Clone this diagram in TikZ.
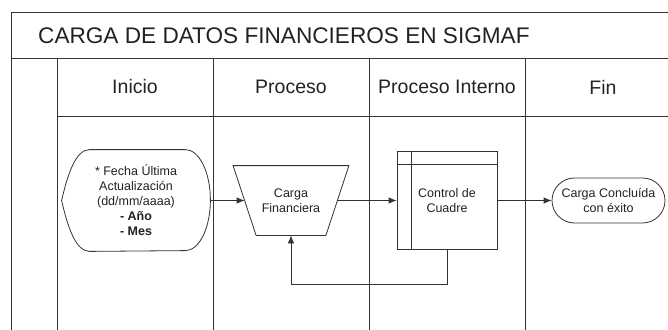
\documentclass[tikz,border=0pt]{standalone}
\usepackage{fontspec}
\setmainfont{Liberation Sans}
\usepackage{tikz}
\usetikzlibrary{arrows.meta}
\definecolor{lineGray}{HTML}{333333}
\definecolor{textGray}{HTML}{222222}

\begin{document}
\begin{tikzpicture}[x=1pt,y=-1pt,
    lane/.style={draw=lineGray,line width=1pt},
    outline/.style={draw=lineGray,line width=0.8pt},
    box/.style={outline,text=textGray,align=center,font=\fontsize{12.5}{15}\selectfont},
    flow/.style={draw=lineGray,line width=0.8pt,-{Latex[length=8pt,width=6.5pt]}},
    head/.style={text=textGray,font=\fontsize{19.5}{23}\selectfont}]
    \useasboundingbox (0,0) rectangle (668,329);
    \clip (0,0) rectangle (668,329);
    \draw[lane] (11,340) -- (11,13) -- (690,13);
    \draw[lane] (11,58) -- (690,58);
    \draw[lane] (57,116) -- (690,116);
    \foreach \x in {57,213,369,525}
        \draw[lane] (\x,58) -- (\x,340);
    \node[text=textGray,font=\fontsize{22.6}{26}\selectfont,anchor=west,inner sep=0pt] (titulo) at (38,35.5) {CARGA DE DATOS FINANCIEROS EN SIGMAF};
    \node[head] (hInicio) at (135,87) {Inicio};
    \node[head] (hProceso) at (291,87) {Proceso};
    \node[head] (hInterno) at (447,87) {Proceso Interno};
    \node[head] (hFin) at (603,87) {Fin};
    \node[box,draw=none,minimum width=148pt,minimum height=101pt,inner sep=0pt] (ini) at (136,200.5)
        {* Fecha Última\\Actualización\\(dd/mm/aaaa)\\\textbf{- Año}\\\textbf{- Mes}};
    \draw[outline] (ini.west) .. controls ([xshift=6pt,yshift=26pt]ini.west) and ([xshift=14pt]ini.north west) .. ([xshift=28pt]ini.north west)
        -- ([xshift=-25pt]ini.north east) arc[start angle=90,end angle=-90,x radius=25pt,y radius=50.5pt]
        -- ([xshift=28pt]ini.south west) .. controls ([xshift=14pt]ini.south west) and ([xshift=6pt,yshift=-26pt]ini.west) .. (ini.west);
    \node[box,draw=none,minimum width=115pt,minimum height=69pt,inner sep=0pt] (carga) at (291,200.5) {Carga\\Financiera};
    \draw[outline] (carga.north west) -- (carga.north east) -- ([xshift=-23pt]carga.south east)
        -- ([xshift=23pt]carga.south west) -- cycle;
    \node[box,minimum width=100pt,minimum height=98pt] (ctrl) at (447,200.5) {Control de\\Cuadre};
    \draw[outline] ([xshift=15pt]ctrl.north west) -- ([xshift=15pt]ctrl.south west);
    \draw[outline] ([yshift=-13pt]ctrl.north west) -- ([yshift=-13pt]ctrl.north east);
    \node[box,rounded corners=22.5pt,minimum width=113pt,minimum height=45pt,inner sep=1pt] (fin) at (608.5,200.5) {Carga Concluída\\con éxito};
    \draw[flow] (ini.east) -- ([xshift=11.5pt]carga.west);
    \draw[flow] ([xshift=-11.5pt]carga.east) -- (ctrl.west);
    \draw[flow] (ctrl.east) -- (fin.west);
    \draw[flow] (ctrl.south) -- ++(0,34) -| (carga.south);
\end{tikzpicture}
\end{document}
